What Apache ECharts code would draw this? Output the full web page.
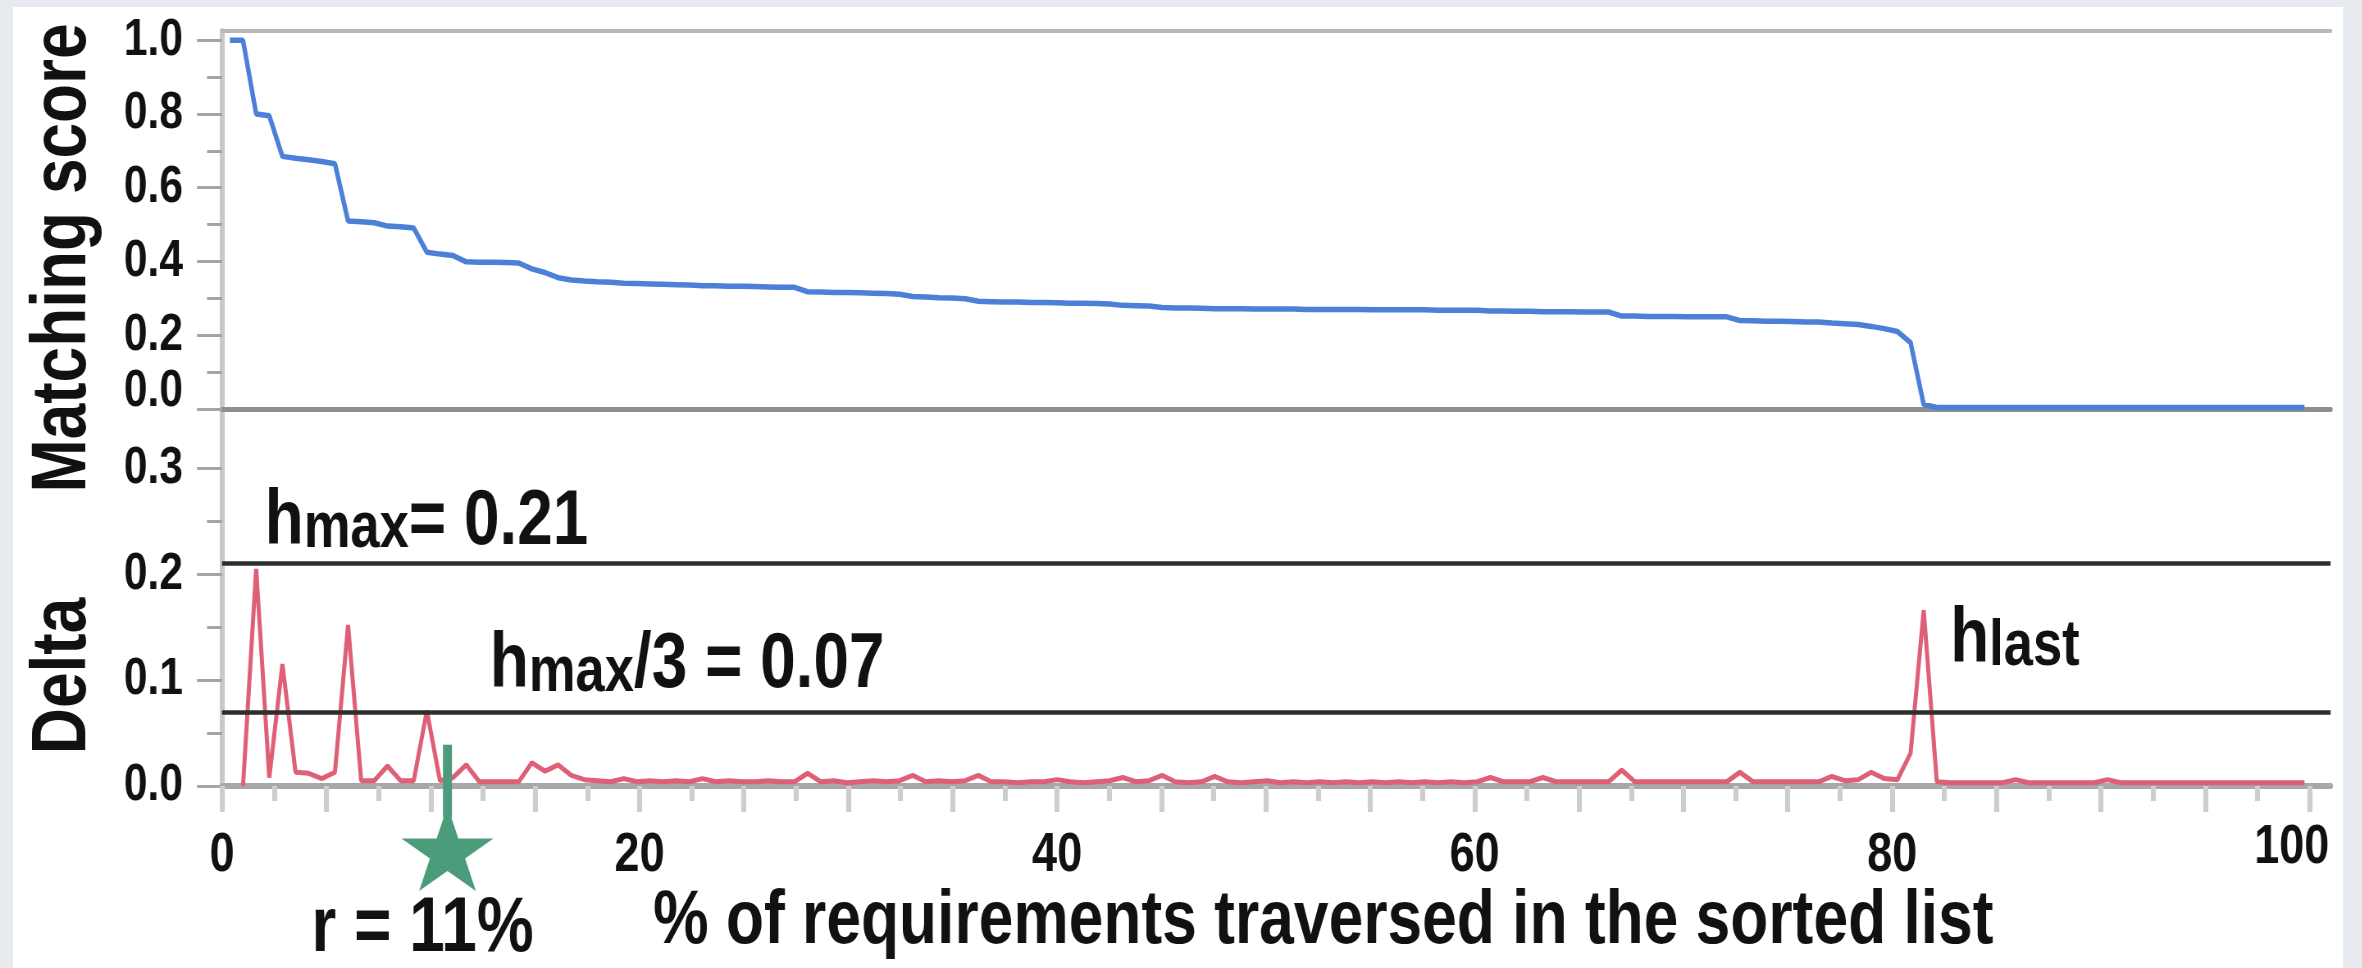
<!DOCTYPE html>
<html><head><meta charset="utf-8">
<script src="https://cdn.jsdelivr.net/npm/echarts@6/dist/echarts.min.js"></script>
<style>
html,body{margin:0;padding:0;background:#e7eaee;width:2362px;height:968px;overflow:hidden}
#panel{position:absolute;left:13px;top:7px;width:2330px;height:961px;background:#fff}
#chart{position:absolute;left:0;top:0;height:968px;transform-origin:0 0}
</style></head><body>
<div id="panel"></div><div id="chart"></div>
<script>
// ---- data ----
const matchingScore = [
  1.000, 1.000, 0.800, 0.795, 0.685, 0.680, 0.676, 0.671, 0.665, 0.510,
  0.508, 0.505, 0.496, 0.494, 0.491, 0.425, 0.420, 0.416, 0.399, 0.398,
  0.398, 0.397, 0.396, 0.380, 0.370, 0.356, 0.350, 0.347, 0.345, 0.344,
  0.341, 0.340, 0.339, 0.338, 0.337, 0.336, 0.334, 0.334, 0.333, 0.333,
  0.332, 0.331, 0.330, 0.330, 0.318, 0.317, 0.316, 0.316, 0.315, 0.314,
  0.313, 0.311, 0.305, 0.304, 0.302, 0.301, 0.299, 0.292, 0.291, 0.290,
  0.290, 0.289, 0.289, 0.288, 0.287, 0.287, 0.286, 0.285, 0.281, 0.280,
  0.279, 0.275, 0.274, 0.274, 0.273, 0.272, 0.272, 0.272, 0.271, 0.271,
  0.271, 0.271, 0.270, 0.270, 0.270, 0.270, 0.270, 0.269, 0.269, 0.269,
  0.269, 0.269, 0.268, 0.268, 0.268, 0.268, 0.266, 0.266, 0.265, 0.265,
  0.264, 0.264, 0.264, 0.263, 0.263, 0.263, 0.252, 0.252, 0.251, 0.251,
  0.251, 0.250, 0.250, 0.250, 0.250, 0.240, 0.239, 0.238, 0.238, 0.237,
  0.236, 0.236, 0.233, 0.231, 0.229, 0.224, 0.218, 0.210, 0.180, 0.012,
  0.004, 0.004, 0.004, 0.004, 0.004, 0.004, 0.004, 0.004, 0.004, 0.004,
  0.004, 0.004, 0.004, 0.004, 0.004, 0.004, 0.004, 0.004, 0.004, 0.004,
  0.004, 0.004, 0.004, 0.004, 0.004, 0.004, 0.004, 0.004, 0.004
];
const delta = [
  null,  0.000, 0.205, 0.008, 0.115, 0.013, 0.012, 0.007, 0.013, 0.152,
  0.005, 0.005, 0.019, 0.005, 0.005, 0.071, 0.005, 0.008, 0.020, 0.004,
  0.004, 0.004, 0.004, 0.022, 0.014, 0.020, 0.010, 0.006, 0.005, 0.004,
  0.007, 0.004, 0.005, 0.004, 0.005, 0.004, 0.007, 0.004, 0.005, 0.004,
  0.004, 0.005, 0.004, 0.004, 0.012, 0.004, 0.005, 0.003, 0.004, 0.005,
  0.004, 0.005, 0.010, 0.004, 0.005, 0.004, 0.005, 0.010, 0.004, 0.004,
  0.003, 0.004, 0.004, 0.006, 0.004, 0.003, 0.004, 0.005, 0.008, 0.004,
  0.005, 0.010, 0.004, 0.003, 0.004, 0.009, 0.004, 0.003, 0.004, 0.005,
  0.003, 0.004, 0.003, 0.004, 0.003, 0.004, 0.003, 0.004, 0.003, 0.004,
  0.003, 0.004, 0.003, 0.004, 0.003, 0.004, 0.008, 0.004, 0.004, 0.004,
  0.008, 0.004, 0.004, 0.004, 0.004, 0.004, 0.015, 0.004, 0.004, 0.004,
  0.004, 0.004, 0.004, 0.004, 0.004, 0.013, 0.004, 0.004, 0.004, 0.004,
  0.004, 0.004, 0.009, 0.005, 0.006, 0.013, 0.007, 0.006, 0.031, 0.166,
  0.004, 0.003, 0.003, 0.003, 0.003, 0.003, 0.006, 0.003, 0.003, 0.003,
  0.003, 0.003, 0.003, 0.006, 0.003, 0.003, 0.003, 0.003, 0.003, 0.003,
  0.003, 0.003, 0.003, 0.003, 0.003, 0.003, 0.003, 0.003, 0.003
];
const xLabelValues = [0, 20, 40, 60, 80, 100];
const xMajorTicks = [0, 5, 10, 15, 20, 25, 30, 35, 40, 45, 50, 55, 60, 65, 70, 75, 80, 85, 90, 95, 100];
const xMinorTicks = [2.5, 7.5, 12.5, 17.5, 22.5, 27.5, 32.5, 37.5, 42.5, 47.5, 52.5, 57.5, 62.5, 67.5, 72.5, 77.5, 82.5, 87.5, 92.5, 97.5];
const scoreLabelValues = [0, 0.2, 0.4, 0.6, 0.8, 1.0];
const scoreMinorTicks = [0.1, 0.3, 0.5, 0.7, 0.9];
const deltaLabelValues = [0, 0.1, 0.2, 0.3];
const deltaMinorTicks = [0.05, 0.15, 0.25];
const hMax = 0.21;
const hMaxThird = 0.07;
const rPercent = 10.8;
const rText = 'r = 11%';
const rStem = [-0.03, 0.039];
const rStarY = -0.059;
const xTitle = '% of requirements traversed in the sorted list';
const scoreTitle = 'Matching score';
const deltaTitle = 'Delta';

// ---- styling ----
// the original uses a condensed bold face; the canvas is drawn wider and squeezed horizontally
const SX = 0.82;
const px = v => v / SX;
const FONT = "'Liberation Sans', Arial, sans-serif";
const TXT = '#111111';
const BLUE = '#4c80d8', RED = '#de5f76', GREEN = '#4b9c7b';
const XMAX = 101, SMAX = 1.025, DMAX = 0.356;

const el = document.getElementById('chart');
el.style.width = (2362 / SX) + 'px';
el.style.transform = 'scaleX(' + SX + ')';

const pct = matchingScore.map((_, i) => (i + 0.6) * 100 / matchingScore.length);
const scoreData = matchingScore.map((v, i) => [pct[i], v]);
const deltaData = delta.map((v, i) => [pct[i], v]);
let hLastIdx = 0;
delta.forEach((v, i) => { if (pct[i] > 50 && v > (delta[hLastIdx] || 0)) hLastIdx = i; });

const tok = (size, lh) => ({ fontSize: size, lineHeight: lh, fontWeight: 'bold', fontFamily: FONT, color: TXT, verticalAlign: 'bottom' });
const annRich = { h: tok(78, 78), s: tok(64, 54), t: tok(78, 78) };

const G0 = { left: px(222), right: px(31), top: 31, height: 378, outerBoundsMode: 'none' };
const G1 = { left: px(222), right: px(31), top: 409, height: 377, outerBoundsMode: 'none' };

const hidden = { axisLine: { show: false }, axisTick: { show: false }, axisLabel: { show: false }, splitLine: { show: false } };

const chart = echarts.init(el, null, { renderer: 'canvas' });
chart.setOption({
  animation: false,
  backgroundColor: 'transparent',
  grid: [G0, G1, Object.assign({}, G0), Object.assign({}, G1)],
  xAxis: [
    Object.assign({ type: 'value', gridIndex: 0, position: 'bottom', min: 0, max: XMAX }, hidden,
      { axisLine: { show: true, onZero: false, lineStyle: { color: '#8f8f8f', width: 5 } } }),
    Object.assign({ type: 'value', gridIndex: 0, position: 'top', min: 0, max: XMAX }, hidden,
      { axisLine: { show: true, onZero: false, lineStyle: { color: '#b8b8b8', width: 4 } } }),
    {
      type: 'value', gridIndex: 1, position: 'bottom', min: 0, max: XMAX,
      axisLine: { show: true, onZero: false, lineStyle: { color: '#a8a8a8', width: 6 } },
      axisTick: { show: true, customValues: xMajorTicks, length: 26, lineStyle: { color: '#cdcdcd', width: px(5) } },
      axisLabel: {
        show: true, customValues: xLabelValues, margin: 42,
        fontSize: 55, fontWeight: 'bold', fontFamily: FONT, color: TXT,
        formatter: v => v === 100 ? '{end|100}' : String(v),
        rich: { end: { fontSize: 55, lineHeight: 40, fontWeight: 'bold', fontFamily: FONT, color: TXT, padding: [0, px(36), 0, 0] } }
      },
      splitLine: { show: false },
      name: xTitle, nameLocation: 'middle', nameGap: 96,
      nameTextStyle: { fontSize: 76, fontWeight: 'bold', fontFamily: FONT, color: TXT, padding: [0, 0, 0, px(94)] }
    },
    Object.assign({ type: 'value', gridIndex: 2, min: 0, max: XMAX, show: false }, hidden),
    Object.assign({ type: 'value', gridIndex: 3, position: 'bottom', min: 0, max: XMAX }, hidden,
      { axisTick: { show: true, customValues: xMinorTicks, length: 15, lineStyle: { color: '#cdcdcd', width: px(5) } } })
  ],
  yAxis: [
    {
      type: 'value', gridIndex: 0, min: 0, max: SMAX,
      axisLine: { show: true, lineStyle: { color: '#c9c9c9', width: px(5) } },
      axisTick: { show: true, customValues: scoreLabelValues, length: px(25), lineStyle: { color: '#a5a5a5', width: 3 } },
      axisLabel: {
        show: true, customValues: scoreLabelValues, margin: px(39),
        fontSize: 52, fontWeight: 'bold', fontFamily: FONT, color: TXT,
        formatter: v => v === 0 ? '{low|0.0}' : v.toFixed(1),
        rich: { low: { fontSize: 52, fontWeight: 'bold', fontFamily: FONT, color: TXT, padding: [0, 0, 34, 0] } }
      },
      splitLine: { show: false }
    },
    {
      type: 'value', gridIndex: 1, min: 0, max: DMAX,
      axisLine: { show: true, lineStyle: { color: '#c9c9c9', width: px(5) } },
      axisTick: { show: true, customValues: deltaLabelValues, length: px(25), lineStyle: { color: '#a5a5a5', width: 3 } },
      axisLabel: {
        show: true, customValues: deltaLabelValues, margin: px(39),
        fontSize: 52, fontWeight: 'bold', fontFamily: FONT, color: TXT,
        formatter: v => v.toFixed(1)
      },
      splitLine: { show: false }
    },
    Object.assign({ type: 'value', gridIndex: 2, min: 0, max: SMAX }, hidden,
      { axisTick: { show: true, customValues: scoreMinorTicks, length: px(15), lineStyle: { color: '#a5a5a5', width: 3 } } }),
    Object.assign({ type: 'value', gridIndex: 3, min: 0, max: DMAX }, hidden,
      { axisTick: { show: true, customValues: deltaMinorTicks, length: px(15), lineStyle: { color: '#a5a5a5', width: 3 } } })
  ],
  graphic: [
    { type: 'text', x: px(64), y: 258, rotation: Math.PI / 2, scaleX: SX, scaleY: 1 / SX, silent: true,
      style: { text: scoreTitle, fontSize: 78, fontWeight: 'bold', fontFamily: FONT, fill: TXT, align: 'center', verticalAlign: 'middle' } },
    { type: 'text', x: px(64), y: 676, rotation: Math.PI / 2, scaleX: SX, scaleY: 1 / SX, silent: true,
      style: { text: deltaTitle, fontSize: 78, fontWeight: 'bold', fontFamily: FONT, fill: TXT, align: 'center', verticalAlign: 'middle' } }
  ],
  series: [
    {
      name: 'Matching score', type: 'line', xAxisIndex: 0, yAxisIndex: 0,
      data: scoreData, showSymbol: false, symbol: 'none',
      lineStyle: { color: BLUE, width: 5.5 }, z: 3
    },
    {
      name: 'Delta', type: 'line', xAxisIndex: 2, yAxisIndex: 1,
      data: deltaData, showSymbol: false, symbol: 'none',
      lineStyle: { color: RED, width: 5 }, z: 3,
      markLine: {
        silent: true, symbol: 'none', animation: false,
        lineStyle: { color: '#2e2e2e', width: 4.5, type: 'solid' },
        data: [
          { yAxis: hMax, label: { show: true, position: 'insideStartTop', distance: 2, padding: [0, 0, 0, px(41)],
              formatter: '{h|h}{s|max}{t|= 0.21}', rich: annRich } },
          { yAxis: hMaxThird, label: { show: true, position: 'insideStartTop', distance: 7, padding: [0, 0, 0, px(262)],
              formatter: '{h|h}{s|max}{t|/3 = 0.07}', rich: annRich } }
        ]
      },
      markPoint: {
        silent: true, symbol: 'circle', symbolSize: 1, itemStyle: { color: 'rgba(0,0,0,0)' },
        label: { show: true, position: 'right', distance: px(26), offset: [0, 30], formatter: '{h|h}{s|last}', rich: annRich },
        data: [{ coord: [pct[hLastIdx], delta[hLastIdx]] }]
      }
    },
    {
      name: 'r stem', type: 'line', xAxisIndex: 2, yAxisIndex: 1, clip: false,
      data: [[rPercent, rStem[0]], [rPercent, rStem[1]]], showSymbol: false, symbol: 'none',
      lineStyle: { color: GREEN, width: px(9) }, z: 5
    },
    {
      name: 'r', type: 'scatter', xAxisIndex: 2, yAxisIndex: 1, clip: false,
      data: [[rPercent, rStarY]],
      symbol: 'path://M50 0 L61.2 34.5 L97.6 34.5 L68.2 55.9 L79.4 90.5 L50 69.1 L20.6 90.5 L31.8 55.9 L2.4 34.5 L38.8 34.5 Z',
      symbolSize: [px(92), 85], itemStyle: { color: GREEN, opacity: 1 }, z: 6,
      label: { show: true, position: 'bottom', distance: 0, offset: [px(-25), 0], formatter: rText,
        fontSize: 78, fontWeight: 'bold', fontFamily: FONT, color: TXT }
    }
  ]
});
</script>
</body></html>
